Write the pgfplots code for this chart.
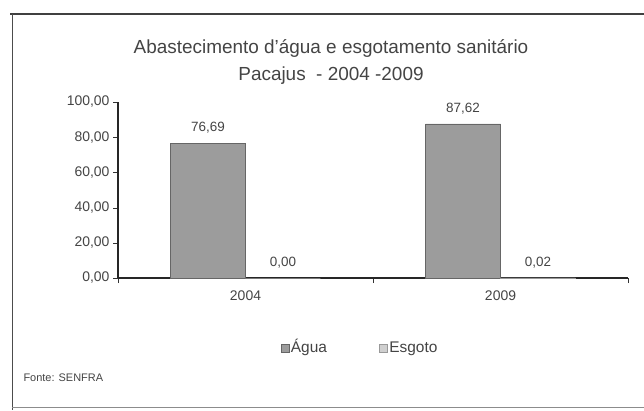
\documentclass[border=0pt]{standalone}
\usepackage{pgfplots}
\pgfplotsset{compat=1.18}
\usepackage{fontspec}
\setmainfont{Liberation Sans}
\definecolor{txt}{HTML}{444444}
\definecolor{agua}{HTML}{9C9C9C}
\definecolor{esgoto}{HTML}{CFCFCF}
\begin{document}
\begin{tikzpicture}[x=1bp,y=1bp]
\path[use as bounding box] (0,0) rectangle (644,410);
\draw[line width=1.6bp, color=black!75] (10,396) -- (644,396);
\draw[line width=1bp, color=black!70] (12,396) -- (12,0);
\draw[line width=1bp, color=black!45] (12,3) -- (644,3);
\node[text=txt, font=\fontsize{19}{27}\selectfont, align=center] at (331,348)
  {Abastecimento d'água e esgotamento sanitário\\Pacajus \ - 2004 -2009};
\node[text=txt, font=\fontsize{11}{12}\selectfont, anchor=west] at (20,32) {Fonte: SENFRA};
\begin{axis}[
  at={(118bp,132bp)}, anchor=south west,
  scale only axis, width=510bp, height=176bp,
  xmin=-0.5, xmax=1.5, ymin=0, ymax=100,
  axis lines*=left,
  axis line style={black!85, line width=1.1bp},
  xtick={0,1}, xticklabels={2004,2009},
  major x tick style={draw=none},
  minor xtick={-0.5,0.5,1.5},
  minor x tick style={black!80},
  ytick={0,20,...,100},
  tick align=outside,
  major tick length=5bp, minor tick length=5bp,
  tick style={black!80},
  tick label style={text=txt, font=\fontsize{14}{16}\selectfont},
  /pgf/number format/assume math mode=true,
  yticklabel style={/pgf/number format/.cd, fixed, fixed zerofill, precision=2, use comma},
  xticklabel style={yshift=-4bp},
  ybar, bar width=0.294,
  nodes near coords,
  nodes near coords style={text=txt, font=\fontsize{13.5}{15}\selectfont, yshift=6bp,
     /pgf/number format/.cd, fixed, fixed zerofill, precision=2, use comma},
  legend columns=2,
  legend style={at={(axis description cs:0.4745,-0.398)}, anchor=center, draw=none, fill=none,
     font=\fontsize{15.5}{17}\selectfont, text=txt,
     nodes={text height=12bp, text depth=3bp},
     /tikz/every even column/.append style={column sep=50bp}},
  legend image code/.code={\draw[#1] (0bp,-4bp) rectangle (8bp,4bp);},
]
\addplot[fill=agua, draw=black!60, bar shift=-0.147] coordinates {(0,76.69) (1,87.62)};
\addplot[fill=esgoto, draw=black!40, bar shift=0.147] coordinates {(0,0.00) (1,0.02)};
\legend{Água, Esgoto}
\end{axis}
\end{tikzpicture}
\end{document}
